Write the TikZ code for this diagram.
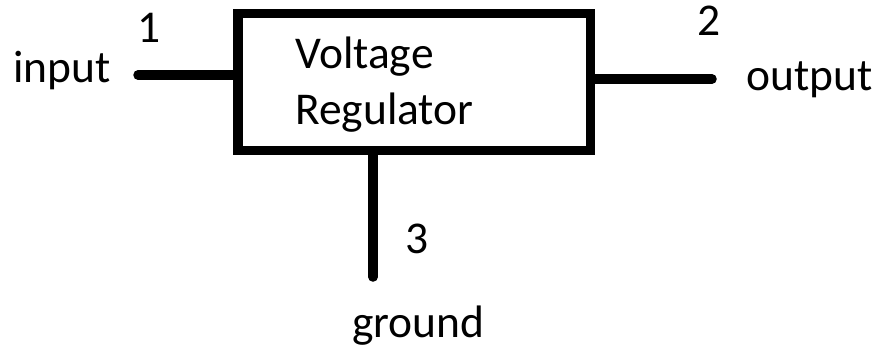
\documentclass[tikz,border=0pt]{standalone}
\usepackage{fontspec}
\setmainfont{Carlito}
\begin{document}
\begin{tikzpicture}[x=1pt,y=-1pt,
  wire/.style={line width=9.5pt,line cap=round},
  lbl/.style={anchor=base west,inner sep=0pt,font=\fontsize{45.5}{50}\selectfont}]
\useasboundingbox (0,0) rectangle (880,349);
\node[draw,line width=9.5pt,minimum width=352.5pt,minimum height=137pt,inner sep=0pt] (reg) at (414.25,82) {};
\coordinate (inL) at (138,75);
\coordinate (outR) at (712,79);
\coordinate (gnd) at (373,277);
\draw[wire] (inL) -- (inL -| reg.west);
\draw[wire] (outR) -- (outR -| reg.east);
\draw[wire] (gnd) -- (gnd |- reg.south);
\node[lbl] (t1) at (295,68) {Voltage};
\node[lbl] (t2) at (295,124) {Regulator};
\node[lbl] (n1) at (137,42) {1};
\node[lbl] (n2) at (697,35) {2};
\node[lbl] (n3) at (405,253) {3};
\node[lbl] (lin) at (13,82) {input};
\node[lbl] (lout) at (746,90) {output};
\node[lbl] (lgnd) at (352,337) {ground};
\end{tikzpicture}
\end{document}
